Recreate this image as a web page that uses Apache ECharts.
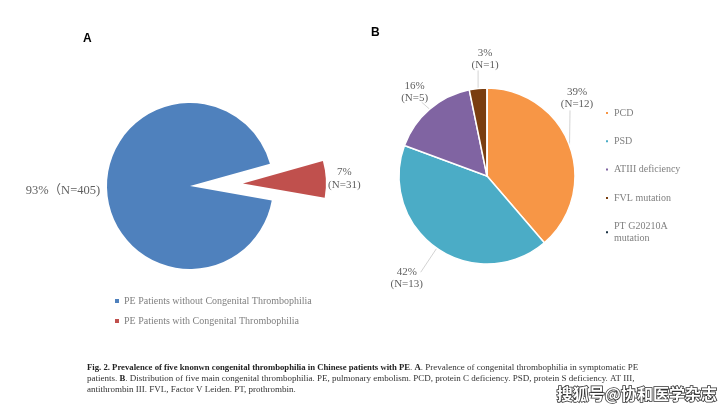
<!DOCTYPE html>
<html>
<head>
<meta charset="utf-8">
<script src="https://cdn.jsdelivr.net/npm/echarts@6/dist/echarts.min.js"></script>
<style>html,body{margin:0;padding:0;background:#fff}#c{width:720px;height:412px}</style>
</head>
<body>
<div id="c"></div>
<script>
// ---- data ----
const catA = ['PE Patients without Congenital Thrombophilia', 'PE Patients with Congenital Thrombophilia'];
const valA = [405, 31];
const catB = ['PCD', 'PSD', 'ATIII deficiency', 'FVL mutation', 'PT G20210A mutation'];
const valB = [12, 13, 5, 1, 0];
const panelTitles = ['A', 'B'];
const captionBold1 = 'Fig. 2. Prevalence of five knonwn congenital thrombophilia in Chinese patients with PE';
const captionLine1Rest = 'Prevalence of congenital thrombophilia in symptomatic PE';
const captionLine2Rest = '. Distribution of five main congenital thrombophilia. PE, pulmonary embolism. PCD, protein C deficiency. PSD, protein S deficiency. AT III,';
const captionLine3 = 'antithrombin III. FVL, Factor V Leiden. PT, prothrombin.';
const watermark = '搜狐号@协和医学杂志';

// ---- styles / layout ----
const colorsA = ['#4F81BD', '#C0504D'];
const colorsB = ['#F79646', '#4BACC6', '#8064A2', '#7A3E10', '#1C3344'];
const serif = "'Liberation Serif', 'Noto Sans CJK SC', serif";
const labelColor = '#5f5f5f';
const legendColor = '#808080';
const centerA = [190, 186], radiusA = 83, startA = -10, explodeA = 53;
const centerB = [487, 176], radiusB = 88, startB = 90;
// label placement offsets (label anchor dx,dy; elbow dx,dy) relative to slice edge point
const labelOffA = [[-7, 1], null];
const labelOffB = [[7.5, -47, 0.5, -35], [-30, 30, -16, 24], [-15, -17, -8, -7], [7, -29, 0, -18], null];

// mid-angle point on a slice's outer edge (ECharts angle convention, clockwise)
function edgePoint(vals, i, center, r, start) {
  const total = vals.reduce((a, b) => a + b, 0);
  let cum = 0;
  for (let k = 0; k < i; k++) cum += vals[k];
  const th = (start - (cum + vals[i] / 2) / total * 360) * Math.PI / 180;
  return [center[0] + r * Math.cos(th), center[1] - r * Math.sin(th)];
}

const chart = echarts.init(document.getElementById('c'), null, {renderer: 'canvas'});

const labelText = {fontFamily: serif, fontSize: 11, lineHeight: 12, color: labelColor};

const option = {
  backgroundColor: '#fff',
  animation: false,
  legend: [
    {
      data: catA, orient: 'vertical', left: 115, top: 295, padding: 0,
      itemWidth: 4, itemHeight: 4, itemGap: 8, icon: 'rect',
      selectedMode: false,
      textStyle: {fontFamily: serif, fontSize: 10, color: legendColor, lineHeight: 12}
    },
    {
      data: catB, orient: 'vertical', left: 604, top: 107, padding: 0,
      itemWidth: 4, itemHeight: 4, itemGap: 16.3, icon: 'rect',
      selectedMode: false,
      formatter: n => n === 'PT G20210A mutation' ? 'PT G20210A\nmutation' : n,
      textStyle: {fontFamily: serif, fontSize: 10, color: legendColor, lineHeight: 12}
    }
  ],
  graphic: [
    {type: 'text', left: 83, top: 33, style: {text: panelTitles[0], font: "bold 12px 'Liberation Sans', Arial", fill: '#000'}},
    {type: 'text', left: 371, top: 27, style: {text: panelTitles[1], font: "bold 12px 'Liberation Sans', Arial", fill: '#000'}},
    {type: 'text', left: 87, top: 363,
      style: {
        text: '{b|' + captionBold1 + '}{n|. }{b|A}{n|. ' + captionLine1Rest + '}\n{n|patients. }{b|B}{n|' + captionLine2Rest + '}\n{n|' + captionLine3 + '}',
        fill: '#222',
        rich: {
          b: {fontFamily: serif, fontSize: 8.7, fontWeight: 'bold', lineHeight: 11, fill: '#222'},
          n: {fontFamily: serif, fontSize: 9, lineHeight: 11, fill: '#333'}
        }
      }
    },
    {type: 'text', left: 556, top: 385,
      style: {text: watermark, font: "bold 16px 'Noto Sans CJK SC'", fill: '#fff', stroke: '#333', lineWidth: 1.6}}
  ],
  series: [
    {
      type: 'pie', center: centerA, radius: radiusA, startAngle: startA, clockwise: true,
      selectedMode: 'single', selectedOffset: explodeA,
      emphasis: {disabled: true},
      data: valA.map((v, i) => ({
        name: catA[i], value: v, selected: i === 1, itemStyle: {color: colorsA[i]},
        labelLine: {show: false, length: 0, length2: 0}
      })),
      label: Object.assign({
        show: true, position: 'outside', overflow: 'none', distanceToLabelLine: 2,
        formatter: p => p.dataIndex === 0
          ? '{big|' + Math.round(p.percent) + '%（N=' + p.value + ')}'
          : '{c|' + Math.round(p.percent) + '%}\n{c2|(N=' + p.value + ')}',
        rich: {
          big: Object.assign({}, labelText, {fontSize: 12.5, lineHeight: 14}),
          c: Object.assign({width: 33, align: 'center'}, labelText),
          c2: Object.assign({width: 33, align: 'center'}, labelText, {lineHeight: 14})
        }
      }, labelText),
      labelLayout: function (p) {
        const i = p.dataIndex;
        const off = labelOffA[i];
        if (!off) return {};
        const e = edgePoint(valA, i, centerA, radiusA, startA);
        return {x: e[0] + off[0], y: e[1] + off[1], align: 'right', verticalAlign: 'middle'};
      }
    },
    {
      type: 'pie', center: centerB, radius: radiusB, startAngle: startB, clockwise: true,
      emphasis: {disabled: true},
      itemStyle: {borderColor: '#fff', borderWidth: 1.5},
      data: valB.map((v, i) => ({name: catB[i], value: v, itemStyle: {color: colorsB[i]},
        label: {show: v > 0}, labelLine: {show: v > 0}})),
      label: Object.assign({
        show: true, position: 'outside', overflow: 'none',
        formatter: p => Math.round(p.percent) + '%\n(N=' + p.value + ')'
      }, labelText),
      labelLine: {show: true, lineStyle: {color: '#c8c8c8', width: 0.8}},
      labelLayout: function (p) {
        const off = labelOffB[p.dataIndex];
        if (!off) return {};
        const e = edgePoint(valB, p.dataIndex, centerB, radiusB, startB);
        return {
          x: e[0] + off[0], y: e[1] + off[1], align: 'center', verticalAlign: 'middle',
          labelLinePoints: [[e[0], e[1]], [e[0] + off[2], e[1] + off[3]], [e[0] + off[2], e[1] + off[3]]]
        };
      }
    }
  ]
};
chart.setOption(option);
</script>
</body>
</html>
